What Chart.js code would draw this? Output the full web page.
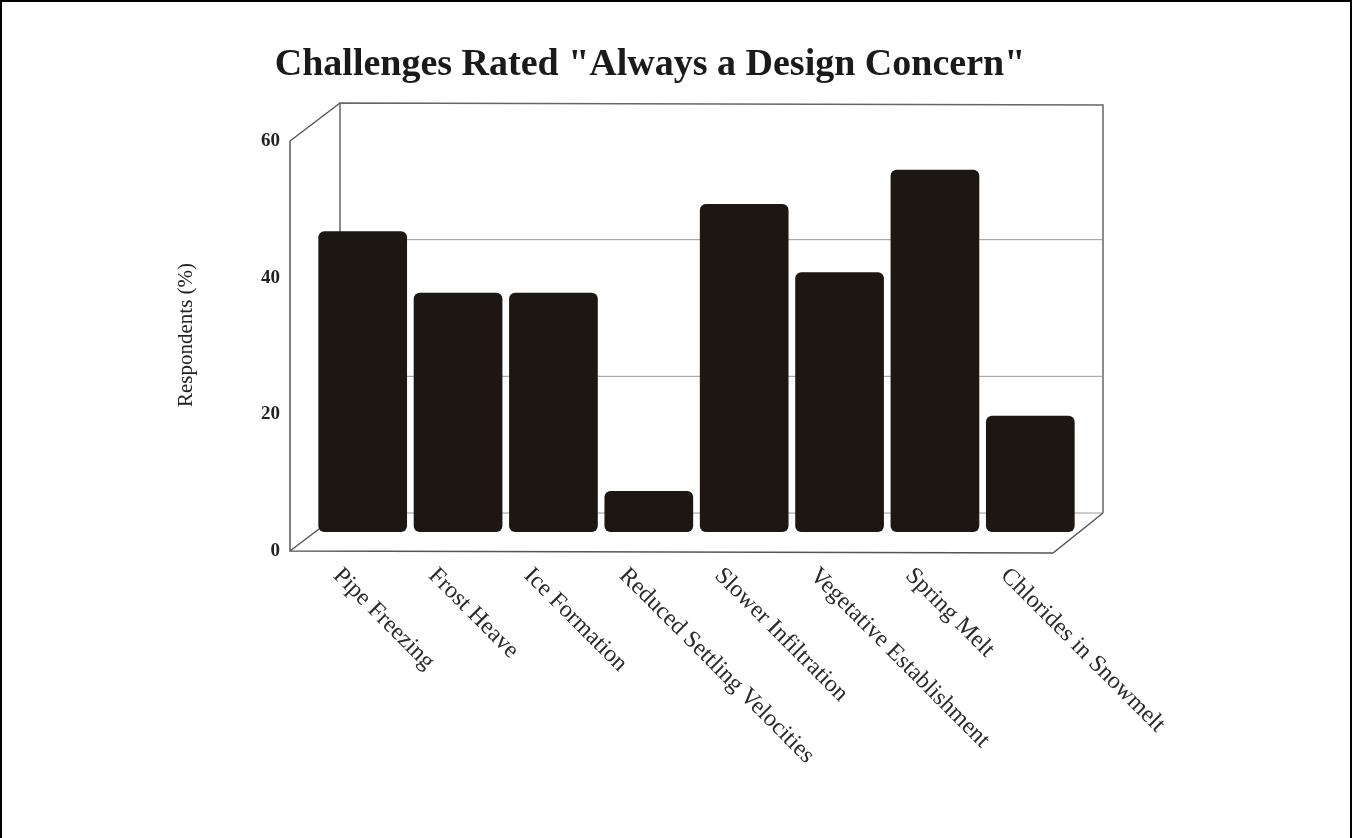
<!DOCTYPE html>
<html lang="en">
<head>
    <meta charset="UTF-8">
    <title>Challenges Rated "Always a Design Concern"</title>
    <script src="https://cdn.jsdelivr.net/npm/chart.js"></script>
    <style>
        body { margin: 0; background: #fff; }
        #wrap { width: 1353px; height: 838px; }
    </style>
</head>
<body>
<div id="wrap">
    <canvas id="concernChart" width="1353" height="838"></canvas>
</div>
<script>
    // data
    const challenges = ['Pipe Freezing', 'Frost Heave', 'Ice Formation', 'Reduced Settling Velocities',
        'Slower Infiltration', 'Vegetative Establishment', 'Spring Melt', 'Chlorides in Snowmelt'];
    const respondents = [44, 35, 35, 6, 48, 38, 53, 17];
    const yTicks = [0, 20, 40, 60];
    const chartTitle = 'Challenges Rated "Always a Design Concern"';
    const yTitle = 'Respondents (%)';

    const SERIF = '"Liberation Serif", "Times New Roman", serif';
    const depthX = 25, depthY = 19;   // offset of back wall / front edge from the bar plane

    // draws the 3d box, tick labels, titles and rotated category labels
    const frame3d = {
        id: 'frame3d',
        beforeDatasetsDraw(chart) {
            const ctx = chart.ctx;
            const area = chart.chartArea;
            const y = chart.scales.y;
            const L = area.left, R = area.right;
            const top = y.getPixelForValue(60), base = y.getPixelForValue(0);

            ctx.save();
            // page border
            ctx.strokeStyle = '#000';
            ctx.lineWidth = 2;
            ctx.beginPath();
            ctx.moveTo(1, 838); ctx.lineTo(1, 1); ctx.lineTo(1351, 1); ctx.lineTo(1351, 838);
            ctx.stroke();

            ctx.strokeStyle = '#666';
            ctx.lineWidth = 1.5;
            // back wall
            ctx.beginPath();
            ctx.moveTo(L + depthX, base - depthY);
            ctx.lineTo(L + depthX, top - depthY);
            ctx.lineTo(R + depthX, top - depthY + 2);
            ctx.lineTo(R + depthX, base - depthY);
            ctx.stroke();
            // back gridlines
            ctx.strokeStyle = '#999';
            ctx.lineWidth = 1;
            yTicks.forEach(v => {
                if (v === 60) return;
                const py = y.getPixelForValue(v) - depthY;
                ctx.beginPath();
                ctx.moveTo(L + depthX, py);
                ctx.lineTo(R + depthX, py);
                ctx.stroke();
            });
            // left side wall + floor
            ctx.strokeStyle = '#555';
            ctx.lineWidth = 1.5;
            ctx.beginPath();
            ctx.moveTo(L + depthX, top - depthY);
            ctx.lineTo(L - depthX, top + depthY);
            ctx.lineTo(L - depthX, base + depthY);
            ctx.lineTo(R - depthX, base + depthY + 2);
            ctx.lineTo(R + depthX, base - depthY);
            ctx.stroke();
            ctx.beginPath();
            ctx.moveTo(L - depthX, base + depthY);
            ctx.lineTo(L + depthX, base - depthY);
            ctx.stroke();

            // y tick labels on the front edge
            ctx.fillStyle = '#222';
            ctx.font = 'bold 19px ' + SERIF;
            ctx.textAlign = 'right';
            ctx.textBaseline = 'middle';
            yTicks.forEach(v => {
                ctx.fillText(String(v), L - depthX - 10, y.getPixelForValue(v) + depthY);
            });

            // y axis title
            ctx.font = '21px ' + SERIF;
            ctx.textAlign = 'center';
            ctx.save();
            ctx.translate(186, 335);
            ctx.rotate(-Math.PI / 2);
            ctx.fillText(yTitle, 0, 0);
            ctx.restore();

            // chart title
            ctx.font = 'bold 38px ' + SERIF;
            ctx.textBaseline = 'alphabetic';
            ctx.fillStyle = '#1a1a1a';
            ctx.fillText(chartTitle, 650, 75);

            // category labels, slanting down to the right
            const x = chart.scales.x;
            ctx.font = '24px ' + SERIF;
            ctx.fillStyle = '#2a2a2a';
            ctx.textAlign = 'left';
            ctx.textBaseline = 'middle';
            challenges.forEach((c, i) => {
                ctx.save();
                ctx.translate(x.getPixelForValue(i) - 26, base + depthY + 21);
                ctx.rotate(45 * Math.PI / 180);
                ctx.fillText(c, 0, 0);
                ctx.restore();
            });
            ctx.restore();
        }
    };

    new Chart(document.getElementById('concernChart'), {
        type: 'bar',
        data: {
            labels: challenges,
            datasets: [{
                label: yTitle,
                data: respondents,
                backgroundColor: '#1c1713',
                borderRadius: 6,
                borderSkipped: false,
                categoryPercentage: 1.0,
                barPercentage: 0.93
            }]
        },
        options: {
            responsive: false,
            animation: false,
            devicePixelRatio: 1,
            layout: { padding: { left: 315, right: 275, top: 122, bottom: 306 } },
            plugins: {
                legend: { display: false },
                title: { display: false },
                tooltip: { enabled: false }
            },
            scales: {
                x: { display: false },
                y: { display: false, min: 0, max: 60 }
            }
        },
        plugins: [frame3d]
    });
</script>
</body>
</html>
